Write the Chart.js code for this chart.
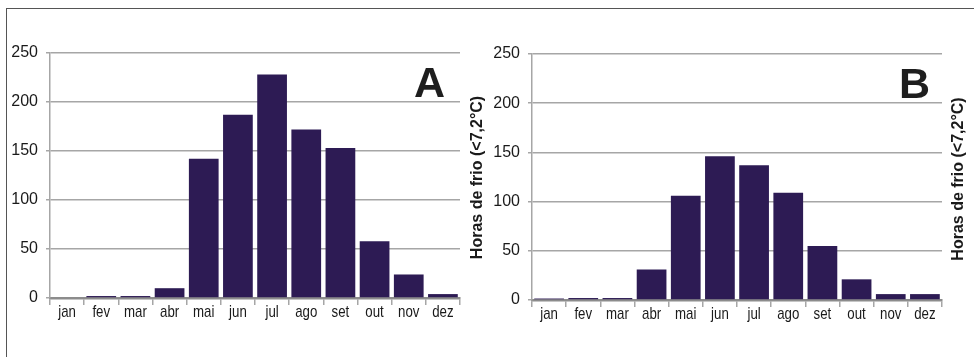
<!DOCTYPE html>
<html>
<head>
<meta charset="utf-8">
<script src="https://cdn.jsdelivr.net/npm/chart.js@4/dist/chart.umd.min.js"></script>
<style>
  html, body { margin: 0; padding: 0; background: #fff; }
  #wrap { position: relative; width: 974px; height: 357px; overflow: hidden; }
  #frame { position: absolute; left: 6px; top: 8px; width: 980px; height: 360px;
           border-top: 1px solid #555; border-left: 1px solid #555; box-sizing: border-box; }
  canvas { position: absolute; top: 0; }
  #cA { left: 0; }
  #cB { left: 487px; }
</style>
</head>
<body>
<div id="wrap">
  <div id="frame"></div>
  <canvas id="cA" width="487" height="357"></canvas>
  <canvas id="cB" width="487" height="357"></canvas>
</div>
<script>
// Monthly chill hours below 7.2 °C for two locations (A and B)
const months = ['jan', 'fev', 'mar', 'abr', 'mai', 'jun', 'jul', 'ago', 'set', 'out', 'nov', 'dez'];
const horasA = [0, 2, 2, 10, 142, 187, 228, 172, 153, 58, 24, 4];
const horasB = [1.5, 2, 2, 31, 106, 146, 137, 109, 55, 21, 6, 6];
const yTicks = [0, 50, 100, 150, 200, 250];
const axisTitle = 'Horas de frio (<7,2°C)';

const barColor = '#2d1b54';
const gridColor = '#a6a6a6';
const textColor = '#1a1a1a';

// Panel letter, rotated axis title and narrow month labels
const panelText = {
  id: 'panelText',
  afterDraw(chart, args, opts) {
    const { ctx, chartArea } = chart;
    const xScale = chart.scales.x;

    // month labels, horizontally condensed
    ctx.save();
    ctx.fillStyle = textColor;
    ctx.font = '17px "Liberation Sans", Arial, sans-serif';
    ctx.textAlign = 'center';
    ctx.textBaseline = 'alphabetic';
    const squeeze = 0.78;
    xScale.ticks.forEach((t, i) => {
      const px = xScale.getPixelForTick(i);
      ctx.save();
      ctx.translate(px, chartArea.bottom + 19);
      ctx.scale(squeeze, 1);
      ctx.fillText(chart.data.labels[i], 0, 0);
      ctx.restore();
    });
    ctx.restore();

    ctx.save();
    ctx.fillStyle = '#1e1e1e';
    ctx.font = 'bold 43px "Liberation Sans", Arial, sans-serif';
    ctx.textAlign = 'right';
    ctx.textBaseline = 'alphabetic';
    ctx.fillText(opts.letter, chartArea.right - opts.letterInset, chartArea.top + 44);

    ctx.translate(chartArea.right + opts.titleOffset, (chartArea.top + chartArea.bottom) / 2 + 2);
    ctx.rotate(-Math.PI / 2);
    ctx.font = 'bold 16px "Liberation Sans", Arial, sans-serif';
    ctx.textAlign = 'center';
    ctx.textBaseline = 'middle';
    ctx.fillStyle = '#1a1a1a';
    ctx.fillText(opts.title, 0, 0);
    ctx.restore();
  }
};

function makeChart(id, values, cfg) {
  return new Chart(document.getElementById(id), {
    type: 'bar',
    data: {
      labels: months,
      datasets: [{
        data: values,
        backgroundColor: barColor,
        borderWidth: 0,
        categoryPercentage: 1,
        barPercentage: 0.87
      }]
    },
    options: {
      responsive: false,
      animation: false,
      devicePixelRatio: 1,
      layout: { padding: { top: cfg.top, right: cfg.right, left: 0, bottom: 0 } },
      plugins: {
        legend: { display: false },
        tooltip: { enabled: false },
        panelText: { letter: cfg.letter, title: axisTitle, letterInset: cfg.letterInset, titleOffset: cfg.titleOffset }
      },
      scales: {
        x: {
          offset: true,
          grid: { display: true, offset: true, drawOnChartArea: false, drawTicks: true,
                  tickLength: 7, color: gridColor, lineWidth: 1.5 },
          border: { display: true, color: '#8c8c8c', width: 2.5 },
          ticks: { display: false },
          afterFit(scale) { scale.height = cfg.xHeight; }
        },
        y: {
          min: yTicks[0],
          max: yTicks[yTicks.length - 1],
          afterBuildTicks(scale) { scale.ticks = yTicks.map(v => ({ value: v })); },
          grid: { color: gridColor, lineWidth: 1.5, tickLength: 4 },
          border: { display: true, color: gridColor, width: 1.5 },
          ticks: { color: textColor, padding: 8,
                   font: { family: '"Liberation Sans", Arial', size: 16 } },
          afterFit(scale) { scale.width = cfg.yWidth; }
        }
      }
    },
    plugins: [panelText]
  });
}

makeChart('cA', horasA, { letter: 'A', top: 53, right: 27, xHeight: 59, yWidth: 50, letterInset: 15, titleOffset: 18 });
makeChart('cB', horasB, { letter: 'B', top: 54, right: 32, xHeight: 57, yWidth: 45, letterInset: 12, titleOffset: 17 });
</script>
</body>
</html>
